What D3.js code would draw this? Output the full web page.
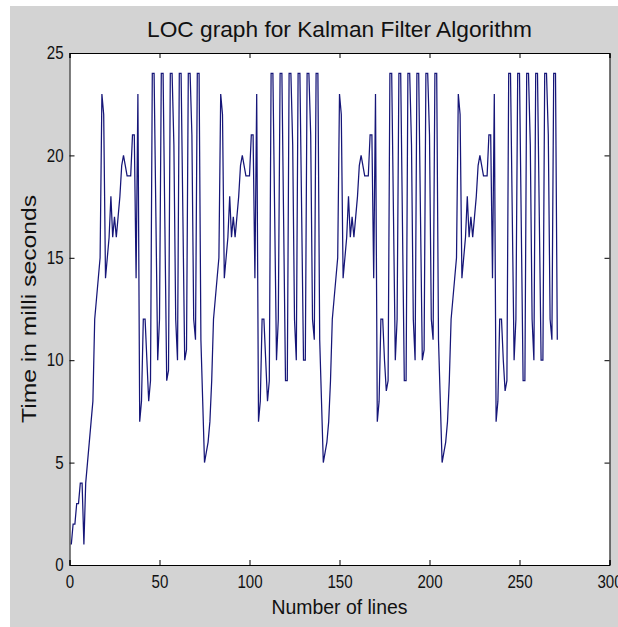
<!DOCTYPE html>
<html lang="en">
<head>
    <meta charset="UTF-8">
    <title>LOC graph</title>
    <script src="https://d3js.org/d3.v7.min.js"></script>
    <style>
        body { margin: 0; background: #fff; }
        text { font-family: "Liberation Sans", Arial, sans-serif; fill: #111; }
    </style>
</head>
<body>
<script>
    const width  = 618;
    const height = 627;
    const margin = {top: 53, right: 8.5, bottom: 62, left: 69.5};

    // time in ms per line (x = 1, 2, 3 ...)
    const startValues = [1, 2, 2, 3, 3, 4, 4, 1];
    const cycle1 = [4, 5, 6, 7, 8, 12, 13, 14, 15, 23, 22, 14, 15, 16, 18, 16, 17, 16, 17, 18,
                    19.5, 20, 19.5, 19, 19, 19, 21, 21, 14, 23, 7, 8, 12, 12, 10, 8, 9, 24, 24, 17,
                    10, 12, 24, 24, 16.5, 9, 9.5, 24, 24, 20.5, 12, 10, 24, 24, 17, 10, 10.5, 24, 24, 21,
                    12, 11, 24, 24, 11, 8];
    const cycle2 = [5, 5.5, 6, 7, 9, 12, 13, 14, 15, 23, 22, 14, 15, 16, 18, 16, 17, 16, 17, 18,
                    19.5, 20, 19.5, 19, 19, 19, 21, 21, 14, 23, 7, 8, 12, 12, 10, 8, 9, 24, 24, 17,
                    10, 12, 24, 24, 16.5, 9, 9, 24, 24, 20.5, 12, 10, 24, 24, 17, 10, 10, 24, 24, 21,
                    12, 11, 24, 24, 11, 8];
    const cycle3 = [5, 5.5, 6, 7, 9, 12, 13, 14, 15, 23, 22, 14, 15, 16, 18, 16, 17, 16, 17, 18,
                    19.5, 20, 19.5, 19, 19, 19, 21, 21, 14, 23, 7, 8, 12, 12, 10, 8.5, 9, 24, 24, 17,
                    10, 12, 24, 24, 16.5, 9, 9, 24, 24, 20.5, 12, 10, 24, 24, 17, 10, 10.5, 24, 24, 21,
                    12, 11, 24, 24, 11, 8];
    const cycle4 = [5, 5.5, 6, 7, 9, 12, 13, 14, 15, 23, 22, 14, 15, 16, 18, 16, 17, 16, 17, 18,
                    19.5, 20, 19.5, 19, 19, 19, 21, 21, 14, 23, 7, 8, 12, 12, 10, 8.5, 9, 24, 24, 17,
                    10, 12, 24, 24, 16.5, 9, 9, 24, 24, 20.5, 12, 10, 24, 24, 17, 10, 10, 24, 24, 21,
                    12, 11, 24, 24, 11];

    const xTicks = [0, 50, 100, 150, 200, 250, 300];
    const yTicks = [0, 5, 10, 15, 20, 25];

    const values = startValues.concat(cycle1, cycle2, cycle3, cycle4);
    const data = values.map((v, i) => ({x: i + 1, y: v}));

    const svg = d3.select("body")
            .append("svg")
            .attr("width", width)
            .attr("height", height);

    // figure background
    svg.append("rect")
       .attr("x", 10).attr("y", 6)
       .attr("width", width - 10).attr("height", height - 6)
       .attr("fill", "#d3d3d3");

    const x = d3.scaleLinear().domain([0, 300]).range([margin.left, width - margin.right]);
    const y = d3.scaleLinear().domain([0, 25]).range([height - margin.bottom, margin.top]);

    svg.append("rect")
       .attr("x", x(0)).attr("y", y(25))
       .attr("width", x(300) - x(0)).attr("height", y(0) - y(25))
       .attr("fill", "#fff");

    // plotted line
    const line = d3.line().x(d => x(d.x)).y(d => y(d.y));
    svg.append("path")
       .datum(data)
       .attr("d", line)
       .attr("fill", "none")
       .attr("stroke", "#161678")
       .attr("stroke-width", 1.25);

    // axes, matlab style: ticks inside, box all round
    const tickLen = 5;
    const narrow = 0.84;
    svg.append("g")
       .attr("transform", `translate(0,${y(0)})`)
       .call(d3.axisBottom(x).tickValues(xTicks).tickSize(-tickLen).tickPadding(10))
       .call(g => g.selectAll("text").attr("font-size", 18).attr("transform", `scale(${narrow},1)`));
    svg.append("g")
       .attr("transform", `translate(0,${y(25)})`)
       .call(d3.axisTop(x).tickValues(xTicks).tickSize(-tickLen).tickFormat(""));
    svg.append("g")
       .attr("transform", `translate(${x(0)},0)`)
       .call(d3.axisLeft(y).tickValues(yTicks).tickSize(-tickLen).tickPadding(7))
       .call(g => g.selectAll("text").attr("font-size", 18).attr("transform", `scale(${narrow},1)`));
    svg.append("g")
       .attr("transform", `translate(${x(300)},0)`)
       .call(d3.axisRight(y).tickValues(yTicks).tickSize(-tickLen).tickFormat(""));

    svg.selectAll(".domain").attr("stroke", "#000");
    svg.selectAll(".tick line").attr("stroke", "#000");
    svg.selectAll(".tick text").style("fill", "#111").style("font-family", "'Liberation Sans', Arial, sans-serif");

    svg.append("text")
       .attr("x", (x(0) + x(300)) / 2)
       .attr("y", 37)
       .attr("text-anchor", "middle")
       .attr("font-size", 22)
       .attr("textLength", 385)
       .attr("lengthAdjust", "spacingAndGlyphs")
       .text("LOC graph for Kalman Filter Algorithm");

    svg.append("text")
       .attr("x", (x(0) + x(300)) / 2)
       .attr("y", 614)
       .attr("text-anchor", "middle")
       .attr("font-size", 20)
       .attr("textLength", 136)
       .attr("lengthAdjust", "spacingAndGlyphs")
       .text("Number of lines");

    svg.append("text")
       .attr("transform", `translate(36,${(y(0) + y(25)) / 2}) rotate(-90)`)
       .attr("text-anchor", "middle")
       .attr("font-size", 21)
       .attr("textLength", 228)
       .attr("lengthAdjust", "spacingAndGlyphs")
       .text("Time in milli seconds");
</script>
</body>
</html>
